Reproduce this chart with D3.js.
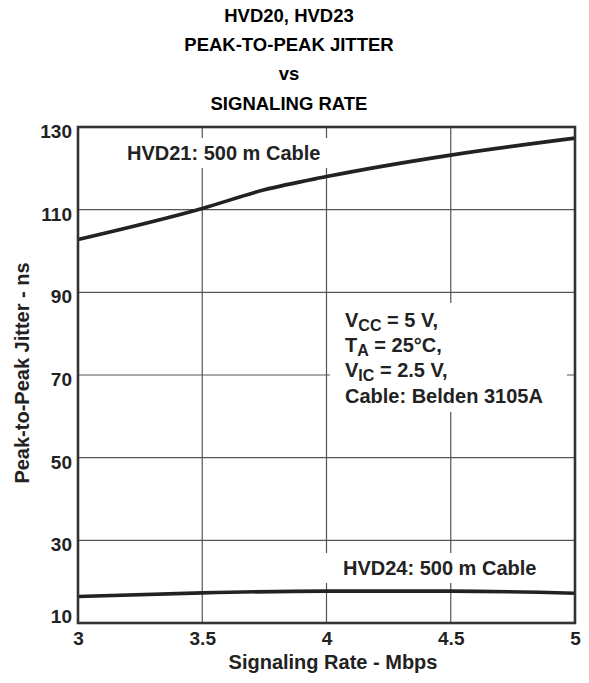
<!DOCTYPE html>
<html>
<head lang="en">
	<meta charset="UTF-8">
	<title>Peak-to-peak jitter vs signaling rate</title>
	<script src="https://cdn.jsdelivr.net/npm/d3@7"></script>
	<style>
		body { margin: 0; background: #fff; }
		text { font-family: "Liberation Sans", Arial, sans-serif; font-weight: bold; }
	</style>
</head>
<body>

<script>

	// values
	var titleLines = ["HVD20, HVD23", "PEAK-TO-PEAK JITTER", "vs", "SIGNALING RATE"];

	var xTicks = [3, 3.5, 4, 4.5, 5];
	var yTicks = [10, 30, 50, 70, 90, 110, 130];

	var rates21 = [3, 3.5, 3.75, 4, 4.5, 5];
	var jitter21 = [102.8, 110.3, 114.8, 118.0, 123.2, 127.3];

	var rates24 = [3, 3.5, 4, 4.5, 5];
	var jitter24 = [16.4, 17.3, 17.7, 17.7, 17.2];

	var W = 589, H = 683;
	var plotL = 78, plotR = 575, plotT = 127, plotB = 623;

	var svg = d3.select('body').append("svg:svg").attr("width", W).attr("height", H);

	var x = d3.scaleLinear().domain([3, 5]).range([plotL, plotR]);
	var y = d3.scaleLinear().domain([10, 130]).range([plotB, plotT]);

	// title
	svg.selectAll("text.title")
			.data(titleLines)
			.enter()
			.append("text")
			.attr("class", "title")
			.attr("x", 289)
			.attr("y", function (d, i) { return 22 + i * 29.2; })
			.attr("text-anchor", "middle")
			.style("font-size", "18.5px")
			.style("fill", "#000")
			.text(function (d) { return d; });

	// grid
	svg.append("g").selectAll("line")
			.data(yTicks.slice(1, -1))
			.enter().append("line")
			.attr("x1", plotL).attr("x2", plotR)
			.attr("y1", function (d) { return y(d); })
			.attr("y2", function (d) { return y(d); })
			.style("stroke", "#555").style("stroke-width", 1.2);

	svg.append("g").selectAll("line")
			.data(xTicks.slice(1, -1))
			.enter().append("line")
			.attr("y1", plotT).attr("y2", plotB)
			.attr("x1", function (d) { return x(d); })
			.attr("x2", function (d) { return x(d); })
			.style("stroke", "#555").style("stroke-width", 1.2);

	// white boxes behind the labels (they hide the grid)
	var boxes = [[118, 138, 220, 30], [320, 553, 240, 30], [330, 303, 237, 109]];
	svg.append("g").selectAll("rect")
			.data(boxes)
			.enter().append("rect")
			.attr("x", function (d) { return d[0]; })
			.attr("y", function (d) { return d[1]; })
			.attr("width", function (d) { return d[2]; })
			.attr("height", function (d) { return d[3]; })
			.style("fill", "#fff");

	// curves
	var line = d3.line()
			.x(function (d) { return x(d[0]); })
			.y(function (d) { return y(d[1]); })
			.curve(d3.curveMonotoneX);

	svg.append("path")
			.datum(d3.zip(rates21, jitter21))
			.attr("d", line)
			.style("fill", "none").style("stroke", "#222").style("stroke-width", 3.6);

	svg.append("path")
			.datum(d3.zip(rates24, jitter24))
			.attr("d", line)
			.style("fill", "none").style("stroke", "#222").style("stroke-width", 3.6);

	// frame
	svg.append("rect")
			.attr("x", plotL).attr("y", plotT)
			.attr("width", plotR - plotL).attr("height", plotB - plotT)
			.style("fill", "none").style("stroke", "#333").style("stroke-width", 2.6);

	// axes (labels only)
	var yAxis = svg.append("g")
			.attr("transform", "translate(" + plotL + ",0)")
			.call(d3.axisLeft(y).tickValues(yTicks).tickSize(0).tickPadding(6));
	yAxis.select(".domain").remove();
	yAxis.selectAll("text")
			.attr("dy", function (d) { return d === 10 ? "-0.05em" : "0.55em"; })
			.style("font-size", "19px").style("fill", "#222")
			.style("font-family", "Liberation Sans, Arial, sans-serif");

	var xAxis = svg.append("g")
			.attr("transform", "translate(0," + plotB + ")")
			.call(d3.axisBottom(x).tickValues(xTicks).tickSize(0).tickPadding(9).tickFormat(d3.format("")));
	xAxis.select(".domain").remove();
	xAxis.selectAll("text")
			.style("font-size", "19px").style("fill", "#222")
			.style("font-family", "Liberation Sans, Arial, sans-serif");

	// axis titles
	svg.append("text")
			.attr("x", 333).attr("y", 669)
			.attr("text-anchor", "middle")
			.style("font-size", "20px").style("fill", "#222")
			.text("Signaling Rate - Mbps");

	svg.append("text")
			.attr("transform", "translate(29,373) rotate(-90)")
			.attr("text-anchor", "middle")
			.style("font-size", "20px").style("fill", "#222")
			.text("Peak-to-Peak Jitter - ns");

	// curve labels
	svg.append("text")
			.attr("x", 127).attr("y", 160)
			.style("font-size", "20px").style("fill", "#222")
			.text("HVD21: 500 m Cable");

	svg.append("text")
			.attr("x", 343).attr("y", 575)
			.style("font-size", "20px").style("fill", "#222")
			.text("HVD24: 500 m Cable");

	// conditions
	var cond = svg.append("g").style("font-size", "20px").style("fill", "#222");

	var t1 = cond.append("text").attr("x", 345).attr("y", 327);
	t1.append("tspan").text("V");
	t1.append("tspan").attr("dy", 4).style("font-size", "16px").text("CC");
	t1.append("tspan").attr("dy", -4).text(" = 5 V,");

	var t2 = cond.append("text").attr("x", 345).attr("y", 352);
	t2.append("tspan").text("T");
	t2.append("tspan").attr("dy", 4).style("font-size", "16px").text("A");
	t2.append("tspan").attr("dy", -4).text(" = 25\u00b0C,");

	var t3 = cond.append("text").attr("x", 345).attr("y", 377);
	t3.append("tspan").text("V");
	t3.append("tspan").attr("dy", 4).style("font-size", "16px").text("IC");
	t3.append("tspan").attr("dy", -4).text(" = 2.5 V,");

	cond.append("text").attr("x", 345).attr("y", 403).text("Cable: Belden 3105A");

</script>


</body>
</html>
